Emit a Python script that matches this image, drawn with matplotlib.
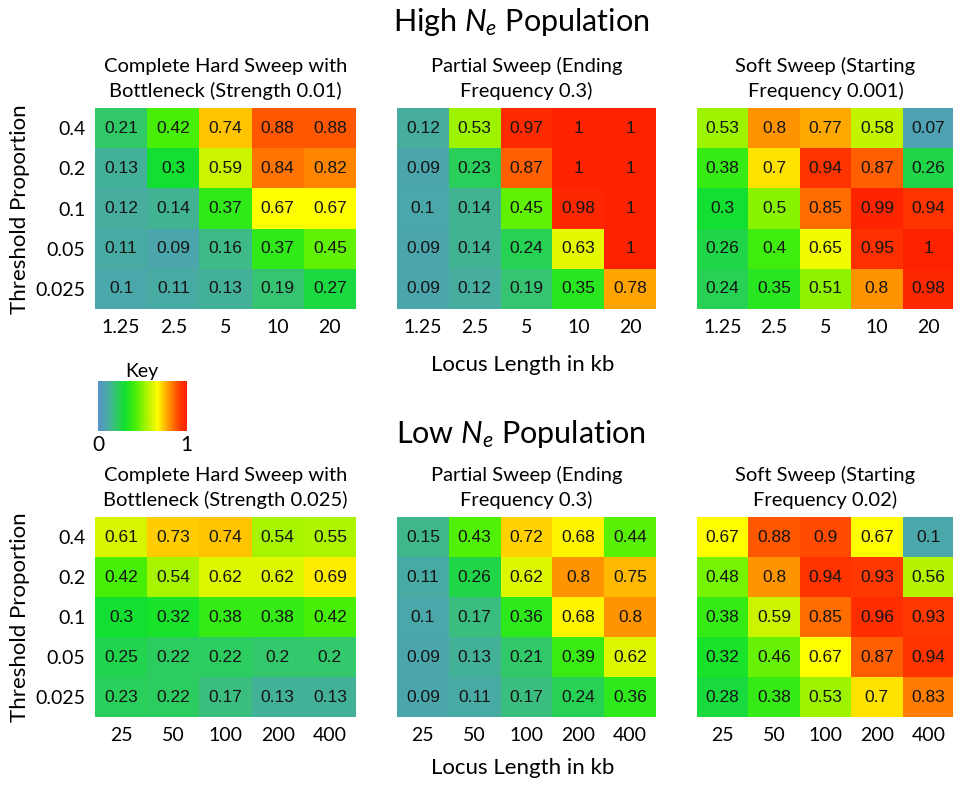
import numpy as np
import matplotlib
matplotlib.use("Agg")
import matplotlib.pyplot as plt
from matplotlib.colors import LinearSegmentedColormap

# data: rows are threshold proportions (top to bottom), columns are locus lengths
thresholds = ["0.4", "0.2", "0.1", "0.05", "0.025"]
high_lengths = ["1.25", "2.5", "5", "10", "20"]
low_lengths = ["25", "50", "100", "200", "400"]

high_titles = ["Complete Hard Sweep with\nBottleneck (Strength 0.01)",
               "Partial Sweep (Ending\nFrequency 0.3)",
               "Soft Sweep (Starting\nFrequency 0.001)"]
low_titles = ["Complete Hard Sweep with\nBottleneck (Strength 0.025)",
              "Partial Sweep (Ending\nFrequency 0.3)",
              "Soft Sweep (Starting\nFrequency 0.02)"]

high_hard = [[0.21, 0.42, 0.74, 0.88, 0.88],
             [0.13, 0.3, 0.59, 0.84, 0.82],
             [0.12, 0.14, 0.37, 0.67, 0.67],
             [0.11, 0.09, 0.16, 0.37, 0.45],
             [0.1, 0.11, 0.13, 0.19, 0.27]]
high_partial = [[0.12, 0.53, 0.97, 1, 1],
                [0.09, 0.23, 0.87, 1, 1],
                [0.1, 0.14, 0.45, 0.98, 1],
                [0.09, 0.14, 0.24, 0.63, 1],
                [0.09, 0.12, 0.19, 0.35, 0.78]]
high_soft = [[0.53, 0.8, 0.77, 0.58, 0.07],
             [0.38, 0.7, 0.94, 0.87, 0.26],
             [0.3, 0.5, 0.85, 0.99, 0.94],
             [0.26, 0.4, 0.65, 0.95, 1],
             [0.24, 0.35, 0.51, 0.8, 0.98]]
low_hard = [[0.61, 0.73, 0.74, 0.54, 0.55],
            [0.42, 0.54, 0.62, 0.62, 0.69],
            [0.3, 0.32, 0.38, 0.38, 0.42],
            [0.25, 0.22, 0.22, 0.2, 0.2],
            [0.23, 0.22, 0.17, 0.13, 0.13]]
low_partial = [[0.15, 0.43, 0.72, 0.68, 0.44],
               [0.11, 0.26, 0.62, 0.8, 0.75],
               [0.1, 0.17, 0.36, 0.68, 0.8],
               [0.09, 0.13, 0.21, 0.39, 0.62],
               [0.09, 0.11, 0.17, 0.24, 0.36]]
low_soft = [[0.67, 0.88, 0.9, 0.67, 0.1],
            [0.48, 0.8, 0.94, 0.93, 0.56],
            [0.38, 0.59, 0.85, 0.96, 0.93],
            [0.32, 0.46, 0.67, 0.87, 0.94],
            [0.28, 0.38, 0.53, 0.7, 0.83]]

# colour ramp blue -> green -> yellow -> orange -> red
cmap = LinearSegmentedColormap.from_list("key", [
    (0.0, "#5696c8"), (0.1, "#4aa8aa"), (0.2, "#34c86c"), (0.3, "#12e030"),
    (0.42, "#48f008"), (0.52, "#98f400"), (0.6, "#d0f400"), (0.67, "#ffff00"),
    (0.72, "#ffd400"), (0.8, "#ff9400"), (0.88, "#ff5800"), (0.94, "#ff3400"),
    (1.0, "#ff2200")])

plt.rcParams["mathtext.fontset"] = "custom"
plt.rcParams["mathtext.rm"] = "Lato"
plt.rcParams["mathtext.it"] = "Lato:italic"

lab = ["Lato", "DejaVu Sans"]
W, H = 954, 785
fig = plt.figure(figsize=(W / 100, H / 100), dpi=100)


def box(x0, y0, x1, y1):
    return [x0 / W, 1 - y1 / H, (x1 - x0) / W, (y1 - y0) / H]


def panel(rect, vals, xlabels, title, show_y):
    ax = fig.add_axes(rect)
    vals = np.array(vals)
    ax.imshow(vals, cmap=cmap, vmin=0, vmax=1, aspect="auto")
    for i in range(vals.shape[0]):
        for j in range(vals.shape[1]):
            ax.text(j, i, f"{vals[i, j]:g}", ha="center", va="center",
                    fontsize=12.5, family="Liberation Sans", color="#151515")
    ax.set_xticks(range(5))
    ax.set_xticklabels(xlabels, fontsize=14, family=lab)
    ax.set_yticks(range(5))
    if show_y:
        ax.set_yticklabels(thresholds, fontsize=14, family=lab)
    else:
        ax.set_yticklabels([])
    ax.tick_params(length=0, pad=7)
    for s in ax.spines.values():
        s.set_visible(False)
    ax.set_title(title, fontsize=14.5, family=lab, pad=8, linespacing=1.45)
    return ax


xs = [(95, 356), (397, 656), (697, 954)]
for k, (vals, t) in enumerate(zip([high_hard, high_partial, high_soft], high_titles)):
    panel(box(xs[k][0], 108, xs[k][1], 309), vals, high_lengths, t, k == 0)
for k, (vals, t) in enumerate(zip([low_hard, low_partial, low_soft], low_titles)):
    panel(box(xs[k][0], 517, xs[k][1], 717), vals, low_lengths, t, k == 0)

fig.text(521 / W, 1 - 22 / H, r"High $N_e$ Population", ha="center", va="center",
         fontsize=22, family=lab)
fig.text(521 / W, 1 - 434 / H, r"Low $N_e$ Population", ha="center", va="center",
         fontsize=22, family=lab)
fig.text(523 / W, 1 - 365 / H, "Locus Length in kb", ha="center", va="center",
         fontsize=16, family=lab)
fig.text(523 / W, 1 - 768 / H, "Locus Length in kb", ha="center", va="center",
         fontsize=16, family=lab)
fig.text(20 / W, 1 - 209 / H, "Threshold Proportion", ha="center", va="center",
         rotation=90, fontsize=16, family=lab)
fig.text(20 / W, 1 - 617 / H, "Threshold Proportion", ha="center", va="center",
         rotation=90, fontsize=16, family=lab)

# key
kax = fig.add_axes(box(98, 381, 186, 431))
kax.imshow(np.linspace(0, 1, 256)[None, :], cmap=cmap, aspect="auto",
           extent=[0, 1, 0, 1])
kax.set_xticks([0, 1])
kax.set_xticklabels(["0", "1"], fontsize=15, family=lab)
kax.set_yticks([])
kax.tick_params(length=0, pad=3)
for s in kax.spines.values():
    s.set_visible(False)
kax.set_title("Key", fontsize=14, family=lab, pad=3)

fig.savefig("out.png", dpi=100)
